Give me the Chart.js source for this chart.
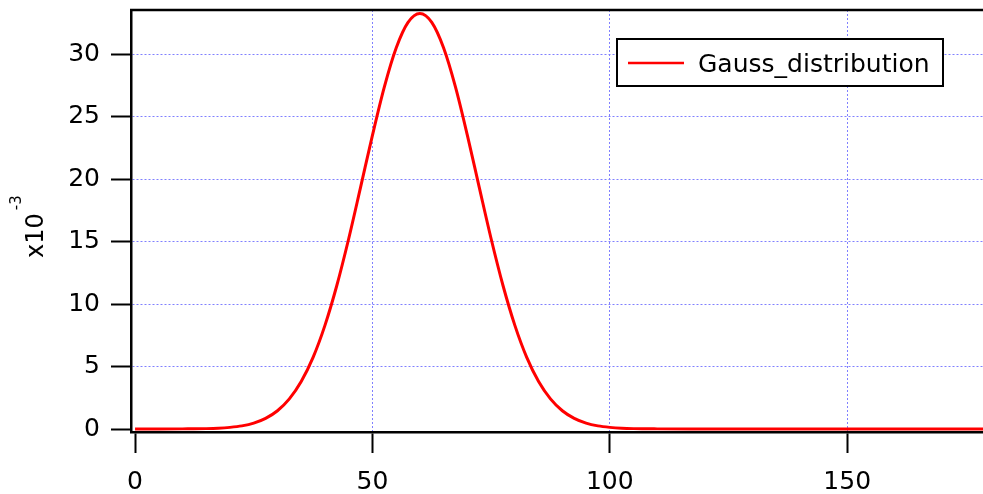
<!DOCTYPE html>
<html>
<head>
<meta charset="utf-8">
<script src="https://cdn.jsdelivr.net/npm/chart.js@4.4.1/dist/chart.umd.min.js"></script>
<style>
  html, body { margin: 0; padding: 0; background: #fff; }
  #wrap { width: 983px; height: 494px; position: relative; }
</style>
</head>
<body>
<div id="wrap"><canvas id="gauss"></canvas></div>
<script>
/* Dados da curva (densidade em unidades de 10^-3) */
const xValues = [0, 5, 10, 15, 17.5, 20, 22.5, 25, 27.5, 30, 32.5, 35, 37.5, 40, 42.5, 45,
  47.5, 50, 52.5, 55, 57.5, 60, 62.5, 65, 67.5, 70, 72.5, 75, 77.5, 80, 82.5, 85, 87.5, 90,
  92.5, 95, 97.5, 100, 102.5, 105, 110, 120, 130, 140, 150, 160, 170, 180];
const density = [0, 0, 0.01, 0.03, 0.06, 0.13, 0.25, 0.47, 0.85, 1.46, 2.41, 3.80, 5.73,
  8.29, 11.48, 15.22, 19.33, 23.49, 27.35, 30.48, 32.53, 33.24, 32.53, 30.48, 27.35, 23.49,
  19.33, 15.22, 11.48, 8.29, 5.73, 3.80, 2.41, 1.46, 0.85, 0.47, 0.25, 0.13, 0.06, 0.03,
  0.01, 0, 0, 0, 0, 0, 0, 0];
const seriesName = "Gauss_distribution";
const xTicks = [0, 50, 100, 150];
const yTicks = [0, 5, 10, 15, 20, 25, 30];

const FONT = "DejaVu Sans";
const GRID = "#8080ff";

/* Moldura superior e legenda desenhadas à mão */
const frameAndLegend = {
  id: "frameAndLegend",
  afterDatasetsDraw(chart) {
    const { ctx, chartArea } = chart;
    ctx.save();
    // linha de topo da moldura
    ctx.strokeStyle = "#000";
    ctx.lineWidth = 2.5;
    ctx.beginPath();
    ctx.moveTo(chartArea.left - 1, chartArea.top);
    ctx.lineTo(chartArea.right, chartArea.top);
    ctx.stroke();

    // caixa da legenda
    const ds = chart.data.datasets[0];
    ctx.fillStyle = "#fff";
    ctx.fillRect(617, 39, 326, 47);
    ctx.lineWidth = 2;
    ctx.strokeRect(617, 39, 326, 47);
    ctx.strokeStyle = ds.borderColor;
    ctx.lineWidth = 2.5;
    ctx.beginPath();
    ctx.moveTo(628, 63);
    ctx.lineTo(684, 63);
    ctx.stroke();
    ctx.fillStyle = "#000";
    ctx.font = "25px '" + FONT + "'";
    ctx.textBaseline = "middle";
    ctx.textAlign = "left";
    ctx.fillText(ds.label, 698, 65);
    ctx.restore();
  },
  afterDraw(chart) {
    // título do eixo y: x10^-3 em pé
    const { ctx } = chart;
    ctx.save();
    ctx.translate(43, 258);
    ctx.rotate(-Math.PI / 2);
    ctx.fillStyle = "#000";
    ctx.textBaseline = "alphabetic";
    ctx.textAlign = "left";
    ctx.font = "24px '" + FONT + "'";
    const w = ctx.measureText("x10").width;
    ctx.fillText("x10", 0, 0);
    ctx.font = "15px '" + FONT + "'";
    ctx.fillText("-3", w + 3, -22);
    ctx.restore();
  }
};

/* Linha de grade pontilhada, sem linha sobre o zero */
function gridColor(c) {
  return c.tick && c.tick.value === 0 ? "rgba(0,0,0,0)" : GRID;
}

const ctx = document.getElementById("gauss").getContext("2d");
new Chart(ctx, {
  type: "line",
  data: {
    datasets: [{
      label: seriesName,
      data: xValues.map((x, i) => ({ x: x, y: density[i] })),
      borderColor: "#ff0000",
      borderWidth: 3,
      pointRadius: 0,
      cubicInterpolationMode: "monotone",
      fill: false
    }]
  },
  options: {
    responsive: true,
    maintainAspectRatio: false,
    animation: false,
    layout: { padding: { top: 10, right: 0, left: 0, bottom: 0 } },
    plugins: { legend: { display: false }, tooltip: { enabled: false } },
    scales: {
      x: {
        type: "linear",
        min: -0.85,
        max: 178.6,
        afterBuildTicks: (s) => { s.ticks = xTicks.map((v) => ({ value: v })); },
        afterFit: (s) => { s.height = 62; s.paddingLeft = 0; s.paddingRight = 0; },
        grid: { color: gridColor, lineWidth: 1, tickColor: "#000", tickWidth: 2, tickLength: 21 },
        border: { color: "#000", width: 2.5, dash: [2, 2] },
        ticks: { color: "#000", padding: 14, maxRotation: 0, font: { family: FONT, size: 25 } }
      },
      y: {
        min: -0.24,
        max: 33.52,
        afterBuildTicks: (s) => { s.ticks = yTicks.map((v) => ({ value: v })); },
        afterFit: (s) => { s.width = 131; s.paddingTop = 0; s.paddingBottom = 0; },
        grid: { color: gridColor, lineWidth: 1, tickColor: "#000", tickWidth: 2, tickLength: 20 },
        border: { color: "#000", width: 2.5, dash: [2, 2] },
        ticks: { color: "#000", padding: 11, font: { family: FONT, size: 25 } }
      }
    }
  },
  plugins: [frameAndLegend]
});
</script>
</body>
</html>
